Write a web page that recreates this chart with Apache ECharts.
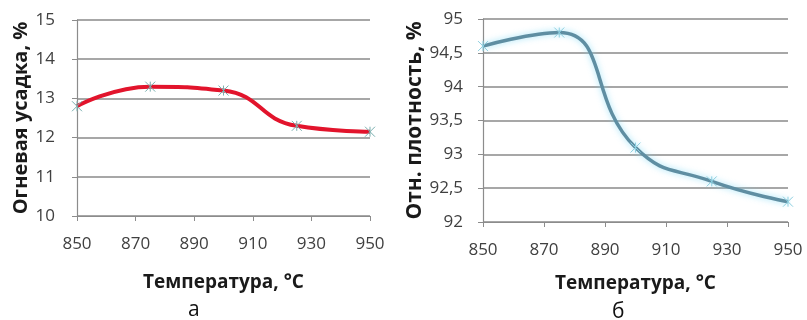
<!DOCTYPE html>
<html>
<head>
<meta charset="utf-8">
<script src="https://cdn.jsdelivr.net/npm/echarts@6/dist/echarts.min.js"></script>
<style>
  html, body { margin: 0; padding: 0; background: #fff; }
  #chart { width: 807px; height: 320px; }
</style>
</head>
<body>
<div id="chart"></div>
<script>
var temps = [850, 875, 900, 925, 950];
var shrinkage = [12.8, 13.3, 13.2, 12.3, 12.15];
var density = [94.6, 94.8, 93.1, 92.6, 92.3];

var xName = 'Температура, °C';
var shrinkName = 'Огневая усадка, %';
var densityName = 'Отн. плотность, %';

var crossMark = 'path://M0,0L10,10M10,0L0,10M5,0L5,10';

function pairs(xs, ys) {
    return xs.map(function (x, i) { return [x, ys[i]]; });
}

function xAxisOf(gridIndex, labelGap, nameGap) {
    return {
        type: 'value',
        gridIndex: gridIndex,
        min: 850,
        max: 950,
        interval: 20,
        name: xName,
        nameLocation: 'middle',
        nameGap: nameGap,
        nameTextStyle: { fontFamily: 'Open Sans', fontWeight: 'bold', fontSize: 19, color: '#1a1a1a' },
        axisLine: { lineStyle: { color: '#8c8c8c', width: 1.2 } },
        axisTick: { show: true, length: 5, lineStyle: { color: '#8c8c8c' } },
        axisLabel: { fontFamily: 'Open Sans', fontSize: 17, color: '#404040', margin: labelGap },
        splitLine: { show: false }
    };
}

function yAxisOf(gridIndex, min, max, step, name, nameSize, nameGap, labelGap, fmt) {
    return {
        type: 'value',
        gridIndex: gridIndex,
        min: min,
        max: max,
        interval: step,
        name: name,
        nameLocation: 'middle',
        nameGap: nameGap,
        nameTextStyle: { fontFamily: 'Open Sans', fontWeight: 'bold', fontSize: nameSize, color: '#1a1a1a' },
        axisLine: { show: true, lineStyle: { color: '#8c8c8c', width: 1.2 } },
        axisTick: { show: true, length: 5, lineStyle: { color: '#8c8c8c' } },
        axisLabel: { fontFamily: 'Open Sans', fontSize: 17, color: '#404040', margin: labelGap, formatter: fmt },
        splitLine: { lineStyle: { color: '#8a8a8a', width: 1.5 } }
    };
}

var option = {
    backgroundColor: '#fff',
    animation: false,
    title: [
        { text: 'а', left: 183, top: 295, textStyle: { fontFamily: 'Open Sans', fontWeight: 'normal', fontSize: 21, color: '#111' } },
        { text: 'б', left: 607, top: 297, textStyle: { fontFamily: 'Open Sans', fontWeight: 'normal', fontSize: 21, color: '#111' } }
    ],
    grid: [
        { left: 77, right: 437, top: 20, bottom: 104 },
        { left: 483, right: 19, top: 19, bottom: 98 }
    ],
    xAxis: [xAxisOf(0, 20, 57), xAxisOf(1, 20, 52)],
    yAxis: [
        yAxisOf(0, 10, 15, 1, shrinkName, 20, 43, 22, function (v) { return String(v); }),
        yAxisOf(1, 92, 95, 0.5, densityName, 21, 48, 20, function (v) { return String(v).replace('.', ','); })
    ],
    series: [{
        type: 'line',
        xAxisIndex: 0,
        yAxisIndex: 0,
        smooth: 0.5,
        data: pairs(temps, shrinkage),
        symbol: crossMark,
        symbolSize: 10,
        itemStyle: { color: 'rgba(0,0,0,0)', borderColor: '#7ab0b0', borderWidth: 1 },
        lineStyle: { color: '#e2142c', width: 4 },
        z: 3
    }, {
        type: 'line',
        xAxisIndex: 1,
        yAxisIndex: 1,
        smooth: 0.5,
        data: pairs(temps, density),
        symbol: crossMark,
        symbolSize: 10,
        itemStyle: { color: 'rgba(0,0,0,0)', borderColor: '#8ccfe0', borderWidth: 1 },
        lineStyle: { color: '#5f8ea2', width: 3.5, shadowColor: 'rgba(120,215,245,0.7)', shadowBlur: 6 },
        z: 3
    }]
};

var myChart = echarts.init(document.getElementById('chart'));
myChart.setOption(option);
</script>
</body>
</html>
